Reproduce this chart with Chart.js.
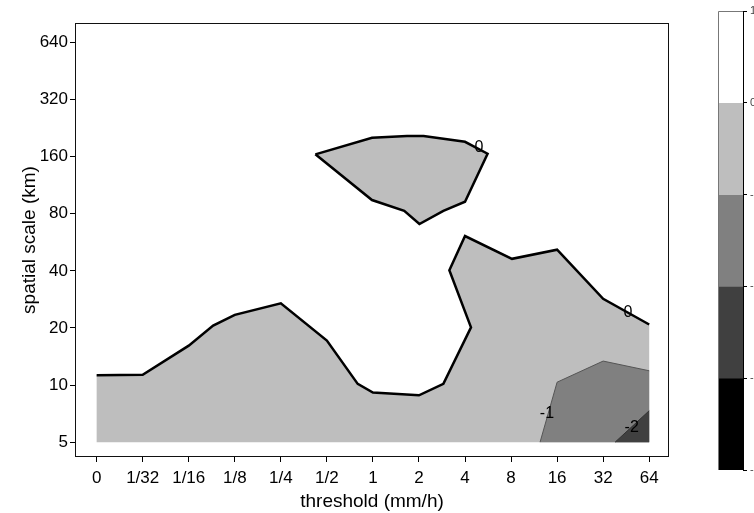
<!DOCTYPE html>
<html>
<head>
<meta charset="utf-8">
<style>
  html, body { margin: 0; padding: 0; background: #fff; overflow: hidden; }
  #wrap { position: relative; width: 754px; height: 513px; overflow: hidden; }
  #main { position: absolute; left: 0; top: 0; }
  #bar { position: absolute; left: 700px; top: 0; }
</style>
<script src="https://cdn.jsdelivr.net/npm/chart.js"></script>
</head>
<body>
<div id="wrap">
  <canvas id="main" width="754" height="513"></canvas>
  <canvas id="bar" width="80" height="513"></canvas>
</div>
<script>
// axis categories
const thresholds = ['0', '1/32', '1/16', '1/8', '1/4', '1/2', '1', '2', '4', '8', '16', '32', '64'];
const spatialScales = ['5', '10', '20', '40', '80', '160', '320', '640'];

// contour lines as [threshold index, scale index]
const zeroLine = [[0, 1.17], [1, 1.18], [2, 1.69], [2.53, 2.04], [3, 2.23], [4, 2.43], [5, 1.78],
  [5.67, 1.02], [6, 0.87], [7, 0.82], [7.53, 1.02], [8.13, 2.01], [7.66, 3.01], [8, 3.61],
  [9.02, 3.21], [10, 3.37], [11, 2.51], [12, 2.06]];
const zeroIsland = [[4.75, 5.04], [5.98, 5.33], [6.74, 5.36], [7.1, 5.36], [8, 5.26], [8.49, 5.05],
  [8, 4.21], [7.53, 4.05], [7.01, 3.82], [6.68, 4.05], [5.98, 4.24], [4.75, 5.04]];
const minusOneLine = [[9.63, 0], [10, 1.05], [11, 1.42], [12, 1.25]];
const minusTwoLine = [[11.26, 0], [12, 0.55]];

// contour labels
const contourLabels = ['0', '0', '-1', '-2'];
const contourLabelPos = [[8.3, 5.15], [11.54, 2.27], [9.78, 0.5], [11.62, 0.26]];

// colour bar
const levels = [1, 0, -1, -2, -3, -4];
const levelColors = ['#ffffff', '#bebebe', '#808080', '#404040', '#000000'];

const family = '"Liberation Sans", Arial, Helvetica, sans-serif';
Chart.defaults.font.family = family;

const pts = arr => arr.map(([x, y]) => ({ x: x, y: y }));

function area(points, color, order) {
    return { data: pts(points), fill: 'shape', backgroundColor: color, borderColor: 'rgba(0,0,0,0)',
        borderWidth: 0, pointRadius: 0, order: order };
}
function contour(points, color, width, order) {
    return { data: pts(points), fill: false, borderColor: color, borderWidth: width, pointRadius: 0, order: order };
}

// box round the plot area
const framePlugin = {
    id: 'frame',
    afterDraw(chart) {
        const { ctx, chartArea: a } = chart;
        ctx.save();
        ctx.strokeStyle = '#111';
        ctx.lineWidth = 1;
        ctx.strokeRect(Math.round(a.left) + 0.5, Math.round(a.top) + 0.5,
            Math.round(a.right - a.left) - 1, Math.round(a.bottom - a.top) - 1);
        ctx.restore();
    }
};

// numbers written on the contours
const labelPlugin = {
    id: 'contourLabels',
    afterDatasetsDraw(chart) {
        const { ctx, scales } = chart;
        ctx.save();
        ctx.font = '16px ' + family;
        ctx.fillStyle = '#000';
        ctx.textAlign = 'center';
        ctx.textBaseline = 'middle';
        contourLabels.forEach((t, i) => {
            const [x, y] = contourLabelPos[i];
            ctx.fillText(t, scales.x.getPixelForValue(x), scales.y.getPixelForValue(y));
        });
        ctx.restore();
    }
};

new Chart(document.getElementById('main'), {
    type: 'line',
    data: {
        datasets: [
            area(zeroLine.concat([[12, 0], [0, 0]]), '#bebebe', 10),
            area(zeroIsland, '#bebebe', 9),
            area(minusOneLine.concat([[12, 0]]), '#808080', 8),
            area(minusTwoLine.concat([[12, 0]]), '#404040', 7),
            contour(minusTwoLine, '#303030', 1, 4),
            contour(minusOneLine, '#555555', 1, 3),
            contour(zeroIsland, '#000000', 2.5, 2),
            contour(zeroLine, '#000000', 2.5, 1)
        ]
    },
    options: {
        responsive: false,
        animation: false,
        layout: { padding: { top: 23, right: 85, left: 0, bottom: 0 } },
        plugins: { legend: { display: false }, tooltip: { enabled: false } },
        elements: { line: { tension: 0 } },
        scales: {
            x: {
                type: 'linear',
                min: -0.47,
                max: 12.43,
                afterBuildTicks: s => { s.ticks = thresholds.map((t, i) => ({ value: i })); },
                afterFit: s => { s.height = 56; },
                ticks: { autoSkip: false, maxRotation: 0, padding: 6, color: '#000',
                    font: { size: 17 }, callback: v => thresholds[v] },
                grid: { drawOnChartArea: false, tickLength: 5, color: '#000' },
                border: { display: false },
                title: { display: true, text: 'threshold (mm/h)', color: '#000',
                    font: { size: 19 }, padding: { top: 0, bottom: 0 } }
            },
            y: {
                type: 'linear',
                min: -0.26,
                max: 7.34,
                afterBuildTicks: s => { s.ticks = spatialScales.map((t, i) => ({ value: i })); },
                afterFit: s => { s.width = 75; },
                ticks: { autoSkip: false, padding: 2, color: '#000',
                    font: { size: 17 }, callback: v => spatialScales[v] },
                grid: { drawOnChartArea: false, tickLength: 5, color: '#000' },
                border: { display: false },
                title: { display: true, text: 'spatial scale (km)', color: '#000',
                    font: { size: 19 }, padding: { top: 18, bottom: 0 } }
            }
        }
    },
    plugins: [framePlugin, labelPlugin]
});

// gray left and top edges of the colour bar
const barFrame = {
    id: 'barFrame',
    afterDraw(chart) {
        const { ctx, chartArea: a } = chart;
        ctx.save();
        ctx.strokeStyle = '#777';
        ctx.lineWidth = 1;
        ctx.beginPath();
        ctx.moveTo(Math.round(a.left) + 0.5, a.bottom);
        ctx.lineTo(Math.round(a.left) + 0.5, Math.round(a.top) + 0.5);
        ctx.lineTo(a.right, Math.round(a.top) + 0.5);
        ctx.stroke();
        ctx.restore();
    }
};

new Chart(document.getElementById('bar'), {
    type: 'bar',
    data: {
        labels: [''],
        datasets: levelColors.map((c, i) => ({
            data: [[levels[i + 1], levels[i]]],
            backgroundColor: c,
            borderWidth: 0,
            grouped: false,
            barPercentage: 1,
            categoryPercentage: 1
        }))
    },
    options: {
        responsive: false,
        animation: false,
        layout: { padding: { left: 18, top: 11, bottom: 43, right: 0 } },
        plugins: { legend: { display: false }, tooltip: { enabled: false } },
        scales: {
            x: { display: false },
            y: {
                position: 'right',
                min: -4,
                max: 1,
                afterBuildTicks: s => { s.ticks = levels.map(v => ({ value: v })); },
                afterFit: s => { s.width = 37; },
                ticks: { padding: 3, color: '#444', font: { size: 11 } },
                grid: { drawOnChartArea: false, tickLength: 4, color: '#000' },
                border: { color: '#000' }
            }
        }
    },
    plugins: [barFrame]
});
</script>
</body>
</html>
